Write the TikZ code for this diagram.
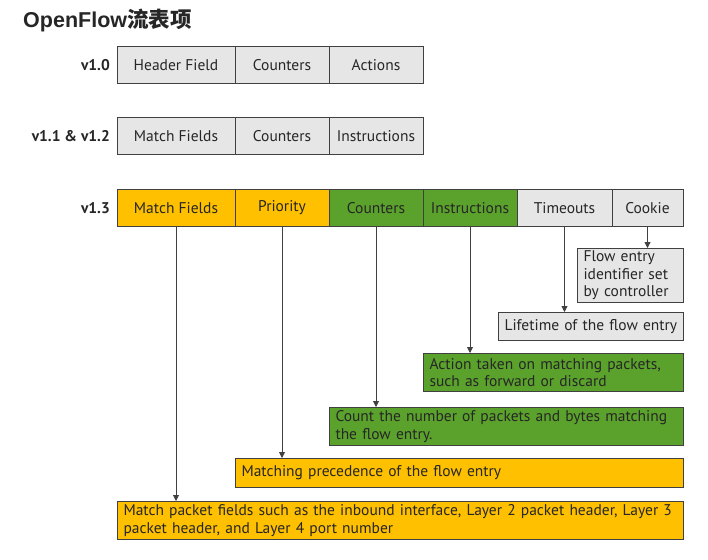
\documentclass[tikz,border=0pt]{standalone}
\usepackage{fontspec}
\setmainfont{PT Sans}
\newfontfamily\titlefont{Liberation Sans}
\newfontfamily\cjk{Noto Sans CJK SC}
\usetikzlibrary{arrows.meta}
\definecolor{cellgray}{HTML}{E6E6E6}
\definecolor{cellyellow}{HTML}{FFC000}
\definecolor{cellgreen}{HTML}{5BA22C}
\definecolor{edge}{HTML}{404040}
\definecolor{ink}{HTML}{262626}
\begin{document}
\begin{tikzpicture}[x=1pt,y=-1pt,
  cell/.style={draw=edge, line width=1pt, minimum height=37pt, inner sep=0pt,
    font=\fontsize{15.5}{17}\selectfont, text=ink},
  verlabel/.style={anchor=east, inner sep=0pt, font=\fontsize{15.5}{17}\selectfont\bfseries, text=ink},
  desc/.style={draw=edge, line width=1pt, anchor=north west, inner xsep=6pt, inner ysep=2pt,
    align=left, font=\fontsize{15.5}{17.5}\selectfont, text=ink},
  arr/.style={draw=edge, line width=0.9pt, -{Triangle[length=6pt,width=6pt]}}]
\useasboundingbox (0,0) rectangle (708,559);
\fill[white] (0,0) rectangle (708,559);
% title
\node[anchor=base west, inner sep=0pt, font=\fontsize{21.5}{24}\selectfont, text=ink] (title) at (23,28)
  {{\titlefont\bfseries OpenFlow}{\cjk\bfseries 流表项}};
% v1.0
\node[verlabel] (l10) at (110,65.5) {v1.0};
\node[cell, fill=cellgray, minimum width=118pt] (a1) at (176,65.5) {Header Field};
\node[cell, fill=cellgray, minimum width=94pt] (a2) at (282,65.5) {Counters};
\node[cell, fill=cellgray, minimum width=94pt] (a3) at (376,65.5) {Actions};
% v1.1 & v1.2
\node[verlabel] (l11) at (110,136) {v1.1 \& v1.2};
\node[cell, fill=cellgray, minimum width=118pt] (b1) at (176,136) {Match Fields};
\node[cell, fill=cellgray, minimum width=94pt] (b2) at (282,136) {Counters};
\node[cell, fill=cellgray, minimum width=94pt] (b3) at (376,136) {Instructions};
% v1.3
\node[verlabel] (l13) at (110,208) {v1.3};
\node[cell, fill=cellyellow, minimum width=118pt] (c1) at (176,208) {Match Fields};
\node[cell, fill=cellyellow, minimum width=94pt] (c2) at (282,208) {Priority};
\node[cell, fill=cellgreen, minimum width=94pt] (c3) at (376,208) {Counters};
\node[cell, fill=cellgreen, minimum width=94pt] (c4) at (470,208) {Instructions};
\node[cell, fill=cellgray, minimum width=95pt] (c5) at (564.5,208) {Timeouts};
\node[cell, fill=cellgray, minimum width=71pt] (c6) at (647.5,208) {Cookie};
% descriptions
\node[desc, fill=cellgray, minimum width=106pt, minimum height=54pt, text width=94pt] (d6) at (577,248)
  {Flow entry\\identifier set\\by controller};
\node[desc, fill=cellgray, minimum width=185pt, minimum height=28pt, text width=173pt] (d5) at (498,312)
  {Lifetime of the flow entry};
\node[desc, fill=cellgreen, minimum width=260pt, minimum height=38pt, text width=248pt] (d4) at (423,353)
  {Action taken on matching packets,\\such as forward or discard};
\node[desc, fill=cellgreen, minimum width=354pt, minimum height=38pt, text width=342pt] (d3) at (329,407)
  {Count the number of packets and bytes matching\\the flow entry.};
\node[desc, fill=cellyellow, minimum width=448pt, minimum height=29pt, text width=436pt] (d2) at (235,458)
  {Matching precedence of the flow entry};
\node[desc, fill=cellyellow, minimum width=566pt, minimum height=38pt, text width=554pt] (d1) at (117,501)
  {Match packet fields such as the inbound interface, Layer 2 packet header, Layer 3\\packet header, and Layer 4 port number};
% arrows
\draw[arr] (c1.south) -- (c1.south |- d1.north);
\draw[arr] (c2.south) -- (c2.south |- d2.north);
\draw[arr] (c3.south) -- (c3.south |- d3.north);
\draw[arr] (c4.south) -- (c4.south |- d4.north);
\draw[arr] (c5.south) -- (c5.south |- d5.north);
\draw[arr] (c6.south) -- (c6.south |- d6.north);
\end{tikzpicture}
\end{document}
